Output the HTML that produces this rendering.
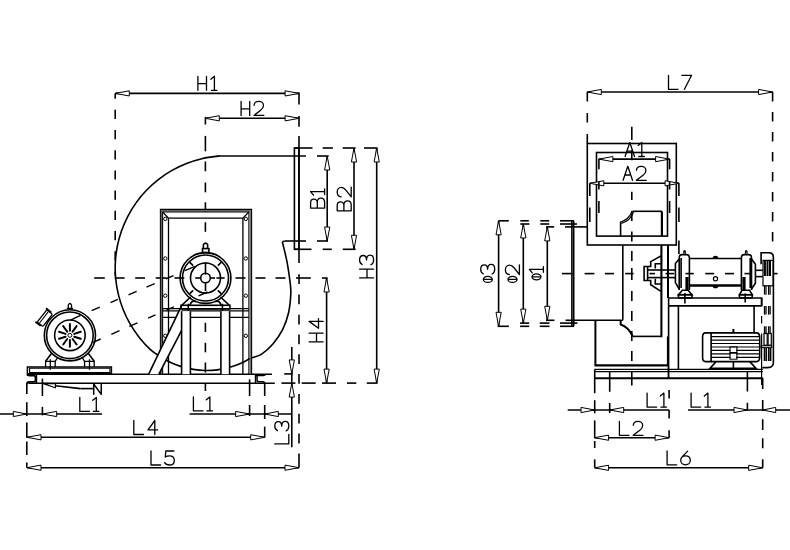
<!DOCTYPE html>
<html><head><meta charset="utf-8"><style>
html,body{margin:0;padding:0;background:#fff;}
svg{display:block;}
</style></head><body>
<svg width="790" height="550" viewBox="0 0 790 550">
<rect width="790" height="550" fill="#fff"/>
<path d="M284.50,241.00 C284.18,241.17 282.85,241.40 282.60,242.00 C282.35,242.60 282.67,243.10 283.00,244.60 C283.33,246.10 283.88,247.87 284.60,251.00 C285.32,254.13 286.38,258.18 287.30,263.40 C288.22,268.62 289.52,277.18 290.10,282.30 C290.68,287.42 291.07,288.98 290.80,294.10 C290.53,299.22 289.87,307.08 288.50,313.00 C287.13,318.92 285.17,324.48 282.60,329.60 C280.03,334.72 276.65,339.57 273.10,343.70 C269.55,347.83 264.96,352.01 261.30,354.40 C257.64,356.79 254.64,356.52 251.16,358.06 C247.69,359.59 244.13,362.00 240.44,363.59 C236.75,365.17 232.91,366.50 229.04,367.55 C225.17,368.60 221.18,369.38 217.19,369.86 C213.21,370.35 209.15,370.56 205.14,370.48 C201.13,370.41 197.08,370.04 193.12,369.40 C189.16,368.75 185.21,367.82 181.38,366.62 C177.55,365.43 173.76,363.95 170.14,362.22 C166.52,360.50 163.02,358.46 159.64,356.28 C156.26,354.10 153.29,352.32 149.86,349.14 C146.44,345.97 142.37,341.44 139.08,337.23 C135.79,333.03 132.76,328.54 130.11,323.91 C127.45,319.27 125.10,314.40 123.12,309.44 C121.15,304.47 119.52,299.31 118.28,294.12 C117.04,288.92 116.16,283.58 115.67,278.27 C115.18,272.95 115.07,267.54 115.35,262.20 C115.63,256.87 116.29,251.50 117.32,246.26 C118.36,241.02 119.78,235.80 121.55,230.76 C123.33,225.72 125.48,220.76 127.95,216.02 C130.43,211.29 133.27,206.68 136.39,202.35 C139.51,198.01 142.98,193.86 146.69,190.02 C150.40,186.17 154.43,182.56 158.65,179.29 C162.87,176.01 167.37,173.01 172.01,170.37 C176.65,167.73 181.54,165.40 186.51,163.45 C191.48,161.50 196.65,159.89 201.85,158.67 C207.05,157.45 215.02,156.59 217.71,156.13 C220.40,155.67 217.95,155.94 218.00,155.90" fill="none" stroke="#000" stroke-width="1.6"/>
<line x1="218.00" y1="156.00" x2="306.00" y2="156.00" stroke="#000" stroke-width="1.6"/>
<line x1="115.30" y1="93.40" x2="299.10" y2="93.40" stroke="#000" stroke-width="1.6"/>
<path d="M115.30,93.40 L129.30,90.80 L129.30,96.00Z" fill="#fff" stroke="#000" stroke-width="1.0" stroke-linejoin="miter"/>
<path d="M299.10,93.40 L285.10,90.80 L285.10,96.00Z" fill="#fff" stroke="#000" stroke-width="1.0" stroke-linejoin="miter"/>
<g transform="translate(197.90,76.30)" fill="none" stroke="#000" stroke-width="1.30" stroke-linecap="round" stroke-linejoin="round">
<path transform="translate(0.00,0)" d="M0,0V14M8.6,0V14M0,7.4H8.6"/>
<path transform="translate(12.90,0)" d="M0,2.9L3.6,0V14M0.6,14H6.2"/>
</g>
<line x1="205.30" y1="118.30" x2="299.10" y2="118.30" stroke="#000" stroke-width="1.6"/>
<path d="M205.30,118.30 L219.30,115.70 L219.30,120.90Z" fill="#fff" stroke="#000" stroke-width="1.0" stroke-linejoin="miter"/>
<path d="M299.10,118.30 L285.10,115.70 L285.10,120.90Z" fill="#fff" stroke="#000" stroke-width="1.0" stroke-linejoin="miter"/>
<g transform="translate(241.10,101.40)" fill="none" stroke="#000" stroke-width="1.30" stroke-linecap="round" stroke-linejoin="round">
<path transform="translate(0.00,0)" d="M0,0V14M8.6,0V14M0,7.4H8.6"/>
<path transform="translate(12.70,0)" d="M0.3,3.9C0.4,1.5 2.4,0 5,0C7.7,0 9.7,1.7 9.7,4.1C9.7,6.2 8.6,7.4 6.8,8.9L0.2,14H10"/>
</g>
<line x1="115.20" y1="93.40" x2="115.20" y2="98.80" stroke="#000" stroke-width="1.6"/>
<line x1="115.20" y1="109.80" x2="115.20" y2="119.00" stroke="#000" stroke-width="1.6"/>
<line x1="115.20" y1="130.00" x2="115.20" y2="139.20" stroke="#000" stroke-width="1.6"/>
<line x1="115.20" y1="150.20" x2="115.20" y2="159.40" stroke="#000" stroke-width="1.6"/>
<line x1="115.20" y1="170.40" x2="115.20" y2="179.60" stroke="#000" stroke-width="1.6"/>
<line x1="115.20" y1="190.60" x2="115.20" y2="199.80" stroke="#000" stroke-width="1.6"/>
<line x1="115.20" y1="210.80" x2="115.20" y2="220.00" stroke="#000" stroke-width="1.6"/>
<line x1="115.20" y1="231.00" x2="115.20" y2="240.20" stroke="#000" stroke-width="1.6"/>
<line x1="115.20" y1="251.20" x2="115.20" y2="260.40" stroke="#000" stroke-width="1.6"/>
<line x1="115.20" y1="271.40" x2="115.20" y2="276.00" stroke="#000" stroke-width="1.6"/>
<line x1="205.40" y1="116.90" x2="205.40" y2="124.50" stroke="#000" stroke-width="1.6"/>
<line x1="205.40" y1="135.90" x2="205.40" y2="151.30" stroke="#000" stroke-width="1.6"/>
<line x1="205.40" y1="161.50" x2="205.40" y2="171.30" stroke="#000" stroke-width="1.6"/>
<line x1="205.40" y1="182.50" x2="205.40" y2="192.30" stroke="#000" stroke-width="1.6"/>
<line x1="205.40" y1="202.30" x2="205.40" y2="211.80" stroke="#000" stroke-width="1.6"/>
<line x1="205.40" y1="222.30" x2="205.40" y2="231.80" stroke="#000" stroke-width="1.6"/>
<line x1="205.40" y1="322.80" x2="205.40" y2="332.00" stroke="#000" stroke-width="1.6"/>
<line x1="205.40" y1="342.80" x2="205.40" y2="352.30" stroke="#000" stroke-width="1.6"/>
<line x1="205.40" y1="362.50" x2="205.40" y2="372.50" stroke="#000" stroke-width="1.6"/>
<line x1="205.40" y1="383.00" x2="205.40" y2="391.00" stroke="#000" stroke-width="1.6"/>
<line x1="299.00" y1="92.60" x2="299.00" y2="104.40" stroke="#000" stroke-width="1.6"/>
<line x1="299.00" y1="116.10" x2="299.00" y2="126.70" stroke="#000" stroke-width="1.6"/>
<line x1="299.00" y1="135.90" x2="299.00" y2="263.00" stroke="#000" stroke-width="1.6"/>
<line x1="299.00" y1="274.20" x2="299.00" y2="284.00" stroke="#000" stroke-width="1.6"/>
<line x1="299.00" y1="294.50" x2="299.00" y2="304.30" stroke="#000" stroke-width="1.6"/>
<line x1="299.00" y1="314.80" x2="299.00" y2="324.60" stroke="#000" stroke-width="1.6"/>
<line x1="299.00" y1="334.40" x2="299.00" y2="344.20" stroke="#000" stroke-width="1.6"/>
<line x1="299.00" y1="354.20" x2="299.00" y2="364.00" stroke="#000" stroke-width="1.6"/>
<line x1="299.00" y1="374.00" x2="299.00" y2="383.80" stroke="#000" stroke-width="1.6"/>
<line x1="299.00" y1="394.00" x2="299.00" y2="403.80" stroke="#000" stroke-width="1.6"/>
<line x1="299.00" y1="413.80" x2="299.00" y2="423.60" stroke="#000" stroke-width="1.6"/>
<line x1="299.00" y1="433.60" x2="299.00" y2="443.40" stroke="#000" stroke-width="1.6"/>
<line x1="299.00" y1="453.40" x2="299.00" y2="467.70" stroke="#000" stroke-width="1.6"/>
<rect x="294.40" y="148.00" width="4.50" height="101.30" fill="none" stroke="#000" stroke-width="1.6"/>
<line x1="317.00" y1="156.00" x2="328.70" y2="156.00" stroke="#000" stroke-width="1.6"/>
<line x1="284.50" y1="241.00" x2="306.00" y2="241.00" stroke="#000" stroke-width="1.6"/>
<line x1="317.00" y1="241.00" x2="328.00" y2="241.00" stroke="#000" stroke-width="1.6"/>
<line x1="294.40" y1="148.00" x2="312.50" y2="148.00" stroke="#000" stroke-width="1.6"/>
<line x1="322.70" y1="148.00" x2="332.90" y2="148.00" stroke="#000" stroke-width="1.6"/>
<line x1="342.70" y1="148.00" x2="355.60" y2="148.00" stroke="#000" stroke-width="1.6"/>
<line x1="364.00" y1="148.00" x2="377.50" y2="148.00" stroke="#000" stroke-width="1.6"/>
<line x1="294.40" y1="249.30" x2="311.50" y2="249.30" stroke="#000" stroke-width="1.6"/>
<line x1="322.70" y1="249.30" x2="331.80" y2="249.30" stroke="#000" stroke-width="1.6"/>
<line x1="342.70" y1="249.30" x2="355.60" y2="249.30" stroke="#000" stroke-width="1.6"/>
<line x1="281.40" y1="383.10" x2="295.40" y2="383.10" stroke="#000" stroke-width="1.6"/>
<line x1="301.70" y1="383.10" x2="315.70" y2="383.10" stroke="#000" stroke-width="1.6"/>
<line x1="322.00" y1="383.10" x2="336.00" y2="383.10" stroke="#000" stroke-width="1.6"/>
<line x1="346.90" y1="383.10" x2="356.30" y2="383.10" stroke="#000" stroke-width="1.6"/>
<line x1="366.80" y1="383.10" x2="377.50" y2="383.10" stroke="#000" stroke-width="1.6"/>
<line x1="327.20" y1="156.00" x2="327.20" y2="241.00" stroke="#000" stroke-width="1.6"/>
<path d="M327.20,156.00 L324.60,170.00 L329.80,170.00Z" fill="#fff" stroke="#000" stroke-width="1.0" stroke-linejoin="miter"/>
<path d="M327.20,241.00 L324.60,227.00 L329.80,227.00Z" fill="#fff" stroke="#000" stroke-width="1.0" stroke-linejoin="miter"/>
<g transform="translate(310.60,208.10) rotate(-90)" fill="none" stroke="#000" stroke-width="1.30" stroke-linecap="round" stroke-linejoin="round">
<path transform="translate(0.00,0)" d="M0,0V14H5.6C8.1,14 9.9,12.6 9.9,10.4C9.9,8.2 8.1,6.7 5.6,6.7H0M0,0H5.2C7.3,0 8.9,1.4 8.9,3.3C8.9,5.3 7.3,6.7 5.2,6.7"/>
<path transform="translate(12.90,0)" d="M0,2.9L3.6,0V14M0.6,14H6.2"/>
</g>
<line x1="354.00" y1="148.00" x2="354.00" y2="249.30" stroke="#000" stroke-width="1.6"/>
<path d="M354.00,148.00 L351.40,162.00 L356.60,162.00Z" fill="#fff" stroke="#000" stroke-width="1.0" stroke-linejoin="miter"/>
<path d="M354.00,249.30 L351.40,235.30 L356.60,235.30Z" fill="#fff" stroke="#000" stroke-width="1.0" stroke-linejoin="miter"/>
<g transform="translate(337.20,210.80) rotate(-90)" fill="none" stroke="#000" stroke-width="1.30" stroke-linecap="round" stroke-linejoin="round">
<path transform="translate(0.00,0)" d="M0,0V14H5.6C8.1,14 9.9,12.6 9.9,10.4C9.9,8.2 8.1,6.7 5.6,6.7H0M0,0H5.2C7.3,0 8.9,1.4 8.9,3.3C8.9,5.3 7.3,6.7 5.2,6.7"/>
<path transform="translate(13.70,0)" d="M0.3,3.9C0.4,1.5 2.4,0 5,0C7.7,0 9.7,1.7 9.7,4.1C9.7,6.2 8.6,7.4 6.8,8.9L0.2,14H10"/>
</g>
<line x1="376.70" y1="148.00" x2="376.70" y2="383.10" stroke="#000" stroke-width="1.6"/>
<path d="M376.70,148.00 L374.10,162.00 L379.30,162.00Z" fill="#fff" stroke="#000" stroke-width="1.0" stroke-linejoin="miter"/>
<path d="M376.70,383.10 L374.10,369.10 L379.30,369.10Z" fill="#fff" stroke="#000" stroke-width="1.0" stroke-linejoin="miter"/>
<g transform="translate(359.60,277.80) rotate(-90)" fill="none" stroke="#000" stroke-width="1.30" stroke-linecap="round" stroke-linejoin="round">
<path transform="translate(0.00,0)" d="M0,0V14M8.6,0V14M0,7.4H8.6"/>
<path transform="translate(12.90,0)" d="M0.4,2.6C1.2,0.9 2.9,0 5,0C7.6,0 9.4,1.5 9.4,3.6C9.4,5.7 7.6,6.9 4.9,6.9C7.8,6.9 9.8,8.3 9.8,10.5C9.8,12.6 7.8,14 5,14C2.8,14 1,13.1 0.2,11.4"/>
</g>
<line x1="326.60" y1="278.00" x2="326.60" y2="383.10" stroke="#000" stroke-width="1.6"/>
<path d="M326.60,278.00 L324.00,292.00 L329.20,292.00Z" fill="#fff" stroke="#000" stroke-width="1.0" stroke-linejoin="miter"/>
<path d="M326.60,383.10 L324.00,369.10 L329.20,369.10Z" fill="#fff" stroke="#000" stroke-width="1.0" stroke-linejoin="miter"/>
<g transform="translate(309.10,341.80) rotate(-90)" fill="none" stroke="#000" stroke-width="1.30" stroke-linecap="round" stroke-linejoin="round">
<path transform="translate(0.00,0)" d="M0,0V14M8.6,0V14M0,7.4H8.6"/>
<path transform="translate(13.60,0)" d="M6.8,0L0,9.4H9.6M6.8,0V14"/>
</g>
<line x1="291.80" y1="347.00" x2="291.80" y2="447.30" stroke="#000" stroke-width="1.6"/>
<path d="M291.80,373.90 L289.20,359.90 L294.40,359.90Z" fill="#fff" stroke="#000" stroke-width="1.0" stroke-linejoin="miter"/>
<path d="M291.80,383.10 L289.20,397.10 L294.40,397.10Z" fill="#fff" stroke="#000" stroke-width="1.0" stroke-linejoin="miter"/>
<line x1="284.20" y1="373.90" x2="292.60" y2="373.90" stroke="#000" stroke-width="1.6"/>
<g transform="translate(274.80,443.90) rotate(-90)" fill="none" stroke="#000" stroke-width="1.30" stroke-linecap="round" stroke-linejoin="round">
<path transform="translate(0.00,0)" d="M0,0V14H9.6"/>
<path transform="translate(12.80,0)" d="M0.4,2.6C1.2,0.9 2.9,0 5,0C7.6,0 9.4,1.5 9.4,3.6C9.4,5.7 7.6,6.9 4.9,6.9C7.8,6.9 9.8,8.3 9.8,10.5C9.8,12.6 7.8,14 5,14C2.8,14 1,13.1 0.2,11.4"/>
</g>
<line x1="94.20" y1="278.00" x2="104.80" y2="278.00" stroke="#000" stroke-width="1.6"/>
<line x1="114.70" y1="278.00" x2="124.60" y2="278.00" stroke="#000" stroke-width="1.6"/>
<line x1="135.20" y1="278.00" x2="145.00" y2="278.00" stroke="#000" stroke-width="1.6"/>
<line x1="155.70" y1="278.00" x2="166.30" y2="278.00" stroke="#000" stroke-width="1.6"/>
<line x1="174.50" y1="278.00" x2="184.30" y2="278.00" stroke="#000" stroke-width="1.6"/>
<line x1="195.20" y1="278.00" x2="200.70" y2="278.00" stroke="#000" stroke-width="1.6"/>
<line x1="210.20" y1="278.00" x2="215.00" y2="278.00" stroke="#000" stroke-width="1.6"/>
<line x1="216.40" y1="278.00" x2="224.60" y2="278.00" stroke="#000" stroke-width="1.6"/>
<line x1="235.50" y1="278.00" x2="245.50" y2="278.00" stroke="#000" stroke-width="1.6"/>
<line x1="255.50" y1="278.00" x2="265.50" y2="278.00" stroke="#000" stroke-width="1.6"/>
<line x1="275.50" y1="278.00" x2="285.50" y2="278.00" stroke="#000" stroke-width="1.6"/>
<line x1="296.00" y1="278.00" x2="310.80" y2="278.00" stroke="#000" stroke-width="1.6"/>
<line x1="322.00" y1="278.00" x2="327.60" y2="278.00" stroke="#000" stroke-width="1.6"/>
<line x1="0.00" y1="414.00" x2="102.00" y2="414.00" stroke="#000" stroke-width="1.6"/>
<path d="M26.60,414.00 L13.30,411.40 L13.30,416.60Z" fill="#fff" stroke="#000" stroke-width="1.0" stroke-linejoin="miter"/>
<path d="M42.40,414.00 L56.70,411.40 L56.70,416.60Z" fill="#fff" stroke="#000" stroke-width="1.0" stroke-linejoin="miter"/>
<g transform="translate(79.80,397.40)" fill="none" stroke="#000" stroke-width="1.30" stroke-linecap="round" stroke-linejoin="round">
<path transform="translate(0.00,0)" d="M0,0V14H9.6"/>
<path transform="translate(12.90,0)" d="M0,2.9L3.6,0V14M0.6,14H6.2"/>
</g>
<line x1="26.80" y1="383.20" x2="26.80" y2="394.10" stroke="#000" stroke-width="1.6"/>
<line x1="26.80" y1="402.30" x2="26.80" y2="416.00" stroke="#000" stroke-width="1.6"/>
<line x1="26.80" y1="422.40" x2="26.80" y2="437.80" stroke="#000" stroke-width="1.6"/>
<line x1="26.80" y1="441.50" x2="26.80" y2="455.10" stroke="#000" stroke-width="1.6"/>
<line x1="26.80" y1="462.40" x2="26.80" y2="467.80" stroke="#000" stroke-width="1.6"/>
<line x1="42.40" y1="378.60" x2="42.40" y2="396.00" stroke="#000" stroke-width="1.6"/>
<line x1="42.40" y1="406.90" x2="42.40" y2="415.40" stroke="#000" stroke-width="1.6"/>
<line x1="189.60" y1="414.00" x2="291.80" y2="414.00" stroke="#000" stroke-width="1.6"/>
<path d="M249.60,414.00 L235.60,411.40 L235.60,416.60Z" fill="#fff" stroke="#000" stroke-width="1.0" stroke-linejoin="miter"/>
<path d="M264.70,414.00 L278.30,411.40 L278.30,416.60Z" fill="#fff" stroke="#000" stroke-width="1.0" stroke-linejoin="miter"/>
<g transform="translate(193.40,396.90)" fill="none" stroke="#000" stroke-width="1.30" stroke-linecap="round" stroke-linejoin="round">
<path transform="translate(0.00,0)" d="M0,0V14H9.6"/>
<path transform="translate(12.90,0)" d="M0,2.9L3.6,0V14M0.6,14H6.2"/>
</g>
<line x1="249.60" y1="379.30" x2="249.60" y2="396.00" stroke="#000" stroke-width="1.6"/>
<line x1="249.60" y1="405.00" x2="249.60" y2="416.00" stroke="#000" stroke-width="1.6"/>
<line x1="264.70" y1="383.30" x2="264.70" y2="396.00" stroke="#000" stroke-width="1.6"/>
<line x1="264.70" y1="405.00" x2="264.70" y2="419.00" stroke="#000" stroke-width="1.6"/>
<line x1="264.70" y1="426.60" x2="264.70" y2="437.30" stroke="#000" stroke-width="1.6"/>
<line x1="27.00" y1="437.30" x2="264.70" y2="437.30" stroke="#000" stroke-width="1.6"/>
<path d="M27.00,437.30 L41.00,434.70 L41.00,439.90Z" fill="#fff" stroke="#000" stroke-width="1.0" stroke-linejoin="miter"/>
<path d="M264.70,437.30 L250.70,434.70 L250.70,439.90Z" fill="#fff" stroke="#000" stroke-width="1.0" stroke-linejoin="miter"/>
<g transform="translate(133.80,420.50)" fill="none" stroke="#000" stroke-width="1.30" stroke-linecap="round" stroke-linejoin="round">
<path transform="translate(0.00,0)" d="M0,0V14H9.6"/>
<path transform="translate(14.20,0)" d="M6.8,0L0,9.4H9.6M6.8,0V14"/>
</g>
<line x1="27.00" y1="467.70" x2="299.00" y2="467.70" stroke="#000" stroke-width="1.6"/>
<path d="M27.00,467.70 L41.00,465.10 L41.00,470.30Z" fill="#fff" stroke="#000" stroke-width="1.0" stroke-linejoin="miter"/>
<path d="M299.00,467.70 L285.00,465.10 L285.00,470.30Z" fill="#fff" stroke="#000" stroke-width="1.0" stroke-linejoin="miter"/>
<g transform="translate(151.00,451.00)" fill="none" stroke="#000" stroke-width="1.30" stroke-linecap="round" stroke-linejoin="round">
<path transform="translate(0.00,0)" d="M0,0V14H9.6"/>
<path transform="translate(13.50,0)" d="M9.4,0H1.3L0.8,6C1.9,5.2 3.4,4.8 5,4.8C7.9,4.8 9.8,6.7 9.8,9.4C9.8,12.1 7.8,14 5,14C2.8,14 1,13.2 0.2,11.6"/>
</g>
<line x1="27.30" y1="374.20" x2="272.00" y2="374.20" stroke="#000" stroke-width="1.6"/>
<line x1="28.40" y1="383.20" x2="274.80" y2="383.20" stroke="#000" stroke-width="1.6"/>
<line x1="36.40" y1="374.20" x2="36.40" y2="383.20" stroke="#000" stroke-width="1.6"/>
<path d="M27.0,374.4 Q27.4,375.6 29.5,375.6 H33.6 Q35.4,375.6 35.4,377.8 V380.2 Q35.4,381.9 33.4,381.9 H29.2 Q26.8,381.9 26.8,384.5" fill="none" stroke="#000" stroke-width="1.6"/>
<line x1="255.60" y1="374.20" x2="255.60" y2="383.20" stroke="#000" stroke-width="1.6"/>
<path d="M255.6,375.5 H263.2 Q265.2,375.5 265.6,374.3 M257.1,375.5 V380 Q257.1,381.7 259,381.7 H262.9 Q264.7,381.7 264.7,383.5" fill="none" stroke="#000" stroke-width="1.4"/>
<path d="M42.6,383.4 L55.6,383.6 L55.3,387.8 Z" fill="#fff" stroke="#000" stroke-width="1.2"/>
<line x1="55.30" y1="385.80" x2="80.40" y2="388.60" stroke="#000" stroke-width="1.6"/>
<line x1="80.40" y1="388.60" x2="92.90" y2="388.60" stroke="#000" stroke-width="1.6"/>
<g transform="translate(93.70,384.00) scale(0.74)" fill="none" stroke="#000" stroke-width="2.03" stroke-linecap="round" stroke-linejoin="round">
<path transform="translate(0.00,0)" d="M0,14V0L10.2,14V0"/>
</g>
<path d="M160.4,374.2 V209.4 H251.6 V374.2 M162.6,374.2 V211.9 H248.9 V374.2" fill="none" stroke="#000" stroke-width="1.1"/>
<path d="M161.5,374.2 V210.6 H250.3 V374.2" fill="none" stroke="#666" stroke-width="1.2"/>
<path d="M168.5,374.2 V218.2 H242.9 V374.2 M162.6,211.9 L168.5,218.2 M248.9,211.9 L242.9,218.2" fill="none" stroke="#000" stroke-width="1.3"/>
<circle cx="165.30" cy="218.90" r="1.70" fill="none" stroke="#000" stroke-width="1.0"/>
<circle cx="245.80" cy="218.90" r="1.70" fill="none" stroke="#000" stroke-width="1.0"/>
<circle cx="165.30" cy="258.50" r="1.70" fill="none" stroke="#000" stroke-width="1.0"/>
<circle cx="245.80" cy="258.50" r="1.70" fill="none" stroke="#000" stroke-width="1.0"/>
<circle cx="165.30" cy="295.70" r="1.70" fill="none" stroke="#000" stroke-width="1.0"/>
<circle cx="245.80" cy="295.70" r="1.70" fill="none" stroke="#000" stroke-width="1.0"/>
<circle cx="165.30" cy="335.80" r="1.70" fill="none" stroke="#000" stroke-width="1.0"/>
<circle cx="245.80" cy="335.80" r="1.70" fill="none" stroke="#000" stroke-width="1.0"/>
<line x1="162.60" y1="308.60" x2="248.90" y2="308.60" stroke="#000" stroke-width="1.2"/>
<line x1="162.60" y1="310.90" x2="248.90" y2="310.90" stroke="#000" stroke-width="1.2"/>
<line x1="162.60" y1="317.30" x2="248.90" y2="317.30" stroke="#000" stroke-width="1.3"/>
<path d="M148.7,374.2 L181.5,305.8 V330.6 L158.9,374.2 Z" fill="#fff" stroke="none"/>
<rect x="181.6" y="311.2" width="8.8" height="63" fill="#fff"/><rect x="220.9" y="311.2" width="8.7" height="63" fill="#fff"/>
<line x1="181.60" y1="311.20" x2="181.60" y2="374.20" stroke="#000" stroke-width="1.6"/>
<line x1="190.40" y1="311.20" x2="190.40" y2="374.20" stroke="#000" stroke-width="1.6"/>
<line x1="220.90" y1="311.20" x2="220.90" y2="374.20" stroke="#000" stroke-width="1.6"/>
<line x1="229.60" y1="311.20" x2="229.60" y2="374.20" stroke="#000" stroke-width="1.6"/>
<rect x="181.00" y="305.30" width="48.90" height="3.70" fill="none" stroke="#000" stroke-width="1.6"/>
<line x1="181.50" y1="305.80" x2="148.70" y2="374.20" stroke="#000" stroke-width="1.6"/>
<line x1="181.50" y1="330.60" x2="158.90" y2="374.20" stroke="#000" stroke-width="1.6"/>
<circle cx="205.50" cy="278.00" r="25.40" fill="none" stroke="#000" stroke-width="1.6"/>
<circle cx="205.50" cy="278.00" r="23.00" fill="none" stroke="#000" stroke-width="1.6"/>
<circle cx="205.50" cy="278.00" r="15.00" fill="none" stroke="#000" stroke-width="1.6"/>
<circle cx="205.50" cy="278.00" r="4.80" fill="none" stroke="#000" stroke-width="1.6"/>
<line x1="205.50" y1="262.30" x2="205.50" y2="274.60" stroke="#000" stroke-width="1.6"/>
<line x1="205.50" y1="282.00" x2="205.50" y2="291.00" stroke="#000" stroke-width="1.6"/>
<line x1="217.87" y1="265.63" x2="221.41" y2="262.09" stroke="#000" stroke-width="1.6"/>
<line x1="193.13" y1="265.63" x2="189.59" y2="262.09" stroke="#000" stroke-width="1.6"/>
<line x1="193.13" y1="290.37" x2="189.59" y2="293.91" stroke="#000" stroke-width="1.6"/>
<line x1="217.87" y1="290.37" x2="221.41" y2="293.91" stroke="#000" stroke-width="1.6"/>
<path d="M203.4,249 V244.5 Q205.5,241.8 207.6,244.5 V249" fill="none" stroke="#000" stroke-width="1.6"/>
<rect x="202.50" y="248.60" width="6.40" height="4.00" fill="none" stroke="#000" stroke-width="1.6"/>
<line x1="190.60" y1="297.00" x2="181.70" y2="305.30" stroke="#000" stroke-width="1.6"/>
<line x1="220.50" y1="297.00" x2="229.40" y2="305.30" stroke="#000" stroke-width="1.6"/>
<path d="M190,305.3 Q191,300 196,301.5 M215,301.5 Q220,300 221,305.3" fill="none" stroke="#000" stroke-width="1.6"/>
<line x1="188.30" y1="303.70" x2="188.30" y2="311.00" stroke="#000" stroke-width="1.6"/>
<line x1="222.40" y1="303.70" x2="222.40" y2="311.00" stroke="#000" stroke-width="1.6"/>
<line x1="91.60" y1="310.65" x2="99.80" y2="307.14" stroke="#000" stroke-width="1.4"/>
<line x1="110.50" y1="302.56" x2="117.80" y2="299.44" stroke="#000" stroke-width="1.4"/>
<line x1="128.50" y1="294.86" x2="136.70" y2="291.35" stroke="#000" stroke-width="1.4"/>
<line x1="146.50" y1="287.15" x2="154.70" y2="283.64" stroke="#000" stroke-width="1.4"/>
<line x1="166.10" y1="278.76" x2="173.50" y2="275.60" stroke="#000" stroke-width="1.4"/>
<line x1="185.00" y1="270.67" x2="194.80" y2="266.48" stroke="#000" stroke-width="1.4"/>
<line x1="111.30" y1="334.34" x2="119.50" y2="330.73" stroke="#000" stroke-width="1.4"/>
<line x1="129.30" y1="326.42" x2="137.50" y2="322.81" stroke="#000" stroke-width="1.4"/>
<line x1="148.10" y1="318.14" x2="155.50" y2="314.89" stroke="#000" stroke-width="1.4"/>
<line x1="166.50" y1="310.05" x2="173.80" y2="306.84" stroke="#000" stroke-width="1.4"/>
<line x1="198.50" y1="295.97" x2="207.50" y2="292.01" stroke="#000" stroke-width="1.4"/>
<circle cx="69.90" cy="335.30" r="25.60" fill="none" stroke="#000" stroke-width="1.6"/>
<circle cx="69.90" cy="335.30" r="23.30" fill="none" stroke="#000" stroke-width="1.6"/>
<circle cx="69.90" cy="335.30" r="15.30" fill="none" stroke="#000" stroke-width="1.6"/>
<circle cx="69.90" cy="335.30" r="2.00" fill="none" stroke="#000" stroke-width="1.0"/>
<line x1="74.27" y1="336.72" x2="80.74" y2="338.82" stroke="#000" stroke-width="2.0" stroke-linecap="round"/>
<line x1="72.60" y1="339.02" x2="76.60" y2="344.52" stroke="#000" stroke-width="2.0" stroke-linecap="round"/>
<line x1="69.90" y1="339.90" x2="69.90" y2="346.70" stroke="#000" stroke-width="2.0" stroke-linecap="round"/>
<line x1="67.20" y1="339.02" x2="63.20" y2="344.52" stroke="#000" stroke-width="2.0" stroke-linecap="round"/>
<line x1="65.53" y1="336.72" x2="59.06" y2="338.82" stroke="#000" stroke-width="2.0" stroke-linecap="round"/>
<line x1="65.53" y1="333.88" x2="59.06" y2="331.78" stroke="#000" stroke-width="2.0" stroke-linecap="round"/>
<line x1="67.20" y1="331.58" x2="63.20" y2="326.08" stroke="#000" stroke-width="2.0" stroke-linecap="round"/>
<line x1="69.90" y1="330.70" x2="69.90" y2="323.90" stroke="#000" stroke-width="2.0" stroke-linecap="round"/>
<line x1="72.60" y1="331.58" x2="76.60" y2="326.08" stroke="#000" stroke-width="2.0" stroke-linecap="round"/>
<line x1="74.27" y1="333.88" x2="80.74" y2="331.78" stroke="#000" stroke-width="2.0" stroke-linecap="round"/>
<line x1="70.50" y1="320.10" x2="80.50" y2="315.40" stroke="#000" stroke-width="1.4"/>
<line x1="93.00" y1="342.40" x2="100.70" y2="339.00" stroke="#000" stroke-width="1.4"/>
<path d="M68.3,308.2 V305 Q69.9,302.0 71.5,305 V308.2" fill="none" stroke="#000" stroke-width="1.3"/>
<line x1="66.80" y1="308.60" x2="73.00" y2="308.60" stroke="#000" stroke-width="1.6"/>
<g transform="translate(44.8,318.2) rotate(-52)"><rect x="-7.8" y="-3.6" width="15.6" height="7.2" rx="1.2" fill="#fff" stroke="#000" stroke-width="1.3"/><line x1="-7" y1="-1.2" x2="7" y2="-1.2" stroke="#000" stroke-width="1.1"/><line x1="-8.6" y1="-5.2" x2="-8.6" y2="1.5" stroke="#000" stroke-width="1.8"/><line x1="8.6" y1="-5.2" x2="8.6" y2="1.5" stroke="#000" stroke-width="1.8"/></g>
<line x1="52.00" y1="352.70" x2="45.60" y2="361.30" stroke="#000" stroke-width="1.6"/>
<line x1="87.80" y1="352.70" x2="94.20" y2="361.30" stroke="#000" stroke-width="1.6"/>
<line x1="55.20" y1="361.30" x2="57.90" y2="357.00" stroke="#000" stroke-width="1.3"/>
<line x1="84.60" y1="361.30" x2="81.90" y2="357.00" stroke="#000" stroke-width="1.3"/>
<path d="M45.60,366.90 L45.60,361.30 L55.20,361.30 L55.20,366.90" fill="none" stroke="#000" stroke-width="1.3" stroke-linejoin="miter"/>
<path d="M84.60,366.90 L84.60,361.30 L94.20,361.30 L94.20,366.90" fill="none" stroke="#000" stroke-width="1.3" stroke-linejoin="miter"/>
<line x1="50.30" y1="359.20" x2="50.30" y2="369.80" stroke="#000" stroke-width="1.3"/>
<line x1="89.50" y1="359.20" x2="89.50" y2="369.80" stroke="#000" stroke-width="1.3"/>
<path d="M111.4,366.9 H27.4 V374.1 H111.4 Z" fill="none" stroke="#000" stroke-width="1.5"/>
<path d="M109.9,368.3 H29.6 V372.6 H109.9 Z" fill="none" stroke="#000" stroke-width="1.1"/>
<line x1="27.40" y1="373.50" x2="111.40" y2="373.50" stroke="#000" stroke-width="1.2"/>
<line x1="587.30" y1="92.00" x2="772.60" y2="92.00" stroke="#000" stroke-width="1.6"/>
<path d="M587.30,92.00 L601.30,89.40 L601.30,94.60Z" fill="#fff" stroke="#000" stroke-width="1.0" stroke-linejoin="miter"/>
<path d="M772.60,92.00 L758.60,89.40 L758.60,94.60Z" fill="#fff" stroke="#000" stroke-width="1.0" stroke-linejoin="miter"/>
<g transform="translate(668.50,75.30)" fill="none" stroke="#000" stroke-width="1.30" stroke-linecap="round" stroke-linejoin="round">
<path transform="translate(0.00,0)" d="M0,0V14H9.6"/>
<path transform="translate(13.30,0)" d="M0,0H9.8L2.6,14"/>
</g>
<line x1="587.30" y1="92.00" x2="587.30" y2="101.50" stroke="#000" stroke-width="1.6"/>
<line x1="587.30" y1="113.00" x2="587.30" y2="122.50" stroke="#000" stroke-width="1.6"/>
<line x1="587.30" y1="134.00" x2="587.30" y2="143.40" stroke="#000" stroke-width="1.6"/>
<line x1="772.60" y1="92.00" x2="772.60" y2="101.50" stroke="#000" stroke-width="1.6"/>
<line x1="772.60" y1="112.00" x2="772.60" y2="121.50" stroke="#000" stroke-width="1.6"/>
<line x1="772.60" y1="132.00" x2="772.60" y2="141.50" stroke="#000" stroke-width="1.6"/>
<line x1="772.60" y1="152.00" x2="772.60" y2="161.50" stroke="#000" stroke-width="1.6"/>
<line x1="772.60" y1="172.00" x2="772.60" y2="181.50" stroke="#000" stroke-width="1.6"/>
<line x1="772.60" y1="192.00" x2="772.60" y2="201.50" stroke="#000" stroke-width="1.6"/>
<line x1="772.60" y1="212.00" x2="772.60" y2="221.50" stroke="#000" stroke-width="1.6"/>
<line x1="772.60" y1="232.00" x2="772.60" y2="241.50" stroke="#000" stroke-width="1.6"/>
<rect x="587.30" y="143.50" width="89.00" height="101.50" fill="none" stroke="#000" stroke-width="1.6"/>
<rect x="596.50" y="152.50" width="71.00" height="83.60" fill="none" stroke="#000" stroke-width="1.6"/>
<line x1="620.60" y1="236.10" x2="620.60" y2="221.70" stroke="#000" stroke-width="1.6"/>
<path d="M620.6,222.0 A18,18 0 0 0 632.2,211.3" fill="none" stroke="#000" stroke-width="1.3"/>
<path d="M621.4,223.4 A18,18 0 0 0 633.6,211.8" fill="none" stroke="#000" stroke-width="1.1"/>
<line x1="632.50" y1="211.30" x2="661.90" y2="211.30" stroke="#000" stroke-width="1.6"/>
<line x1="661.90" y1="211.30" x2="661.90" y2="236.10" stroke="#000" stroke-width="2.2"/>
<line x1="598.90" y1="159.10" x2="669.60" y2="159.10" stroke="#000" stroke-width="1.6"/>
<path d="M598.90,159.10 L612.90,156.50 L612.90,161.70Z" fill="#fff" stroke="#000" stroke-width="1.0" stroke-linejoin="miter"/>
<path d="M669.60,159.10 L655.60,156.50 L655.60,161.70Z" fill="#fff" stroke="#000" stroke-width="1.0" stroke-linejoin="miter"/>
<g transform="translate(625.10,142.50)" fill="none" stroke="#000" stroke-width="1.30" stroke-linecap="round" stroke-linejoin="round">
<path transform="translate(0.00,0)" d="M0,14L4.7,0L9.4,14M1.7,8.7H7.7"/>
<path transform="translate(13.10,0)" d="M0,2.9L3.6,0V14M0.6,14H6.2"/>
</g>
<line x1="589.80" y1="183.30" x2="679.10" y2="183.30" stroke="#000" stroke-width="1.6"/>
<path d="M589.80,183.30 L603.80,180.70 L603.80,185.90Z" fill="#fff" stroke="#000" stroke-width="1.0" stroke-linejoin="miter"/>
<path d="M679.10,183.30 L665.10,180.70 L665.10,185.90Z" fill="#fff" stroke="#000" stroke-width="1.0" stroke-linejoin="miter"/>
<g transform="translate(623.10,166.30)" fill="none" stroke="#000" stroke-width="1.30" stroke-linecap="round" stroke-linejoin="round">
<path transform="translate(0.00,0)" d="M0,14L4.7,0L9.4,14M1.7,8.7H7.7"/>
<path transform="translate(13.10,0)" d="M0.3,3.9C0.4,1.5 2.4,0 5,0C7.7,0 9.7,1.7 9.7,4.1C9.7,6.2 8.6,7.4 6.8,8.9L0.2,14H10"/>
</g>
<line x1="598.90" y1="159.10" x2="598.90" y2="169.30" stroke="#000" stroke-width="1.6"/>
<line x1="598.90" y1="181.90" x2="598.90" y2="189.50" stroke="#000" stroke-width="1.6"/>
<line x1="598.90" y1="201.00" x2="598.90" y2="213.00" stroke="#000" stroke-width="1.6"/>
<line x1="669.60" y1="159.10" x2="669.60" y2="169.30" stroke="#000" stroke-width="1.6"/>
<line x1="669.60" y1="181.90" x2="669.60" y2="189.50" stroke="#000" stroke-width="1.6"/>
<line x1="669.60" y1="201.00" x2="669.60" y2="213.00" stroke="#000" stroke-width="1.6"/>
<line x1="589.80" y1="183.30" x2="589.80" y2="195.90" stroke="#000" stroke-width="1.6"/>
<line x1="589.80" y1="207.40" x2="589.80" y2="222.00" stroke="#000" stroke-width="1.6"/>
<line x1="678.90" y1="183.30" x2="678.90" y2="195.90" stroke="#000" stroke-width="1.6"/>
<line x1="678.90" y1="207.40" x2="678.90" y2="222.00" stroke="#000" stroke-width="1.6"/>
<line x1="678.90" y1="240.50" x2="678.90" y2="254.00" stroke="#000" stroke-width="1.6"/>
<line x1="631.80" y1="126.70" x2="631.80" y2="140.00" stroke="#000" stroke-width="1.6"/>
<line x1="631.80" y1="150.40" x2="631.80" y2="160.20" stroke="#000" stroke-width="1.6"/>
<line x1="631.80" y1="191.70" x2="631.80" y2="200.10" stroke="#000" stroke-width="1.6"/>
<line x1="631.80" y1="211.00" x2="631.80" y2="221.00" stroke="#000" stroke-width="1.6"/>
<line x1="631.80" y1="231.50" x2="631.80" y2="241.50" stroke="#000" stroke-width="1.6"/>
<line x1="631.80" y1="251.00" x2="631.80" y2="260.90" stroke="#000" stroke-width="1.6"/>
<line x1="631.80" y1="268.00" x2="631.80" y2="280.00" stroke="#000" stroke-width="1.6"/>
<line x1="631.80" y1="291.00" x2="631.80" y2="301.00" stroke="#000" stroke-width="1.6"/>
<line x1="631.80" y1="311.00" x2="631.80" y2="321.00" stroke="#000" stroke-width="1.6"/>
<line x1="631.80" y1="331.00" x2="631.80" y2="341.00" stroke="#000" stroke-width="1.6"/>
<line x1="631.80" y1="351.00" x2="631.80" y2="361.00" stroke="#000" stroke-width="1.6"/>
<line x1="631.80" y1="371.00" x2="631.80" y2="385.60" stroke="#000" stroke-width="1.6"/>
<line x1="571.90" y1="220.80" x2="571.90" y2="326.30" stroke="#000" stroke-width="1.6"/>
<line x1="573.70" y1="220.80" x2="573.70" y2="326.30" stroke="#000" stroke-width="1.6"/>
<line x1="573.70" y1="226.90" x2="587.30" y2="226.90" stroke="#000" stroke-width="1.6"/>
<line x1="573.70" y1="320.30" x2="622.80" y2="320.30" stroke="#000" stroke-width="1.6"/>
<line x1="622.80" y1="245.00" x2="622.80" y2="320.30" stroke="#000" stroke-width="1.6"/>
<line x1="595.40" y1="320.30" x2="595.40" y2="365.60" stroke="#000" stroke-width="2.0"/>
<line x1="594.60" y1="365.30" x2="668.30" y2="365.30" stroke="#000" stroke-width="2.2"/>
<line x1="667.90" y1="336.40" x2="667.90" y2="365.60" stroke="#000" stroke-width="2.0"/>
<path d="M620.7,321 V324.5 Q629,327.5 632.6,336.4" fill="none" stroke="#000" stroke-width="2.0"/>
<line x1="632.60" y1="336.40" x2="661.30" y2="336.40" stroke="#000" stroke-width="1.6"/>
<line x1="661.40" y1="245.00" x2="661.40" y2="337.20" stroke="#000" stroke-width="2.1"/>
<line x1="668.00" y1="245.00" x2="668.00" y2="297.90" stroke="#000" stroke-width="2.0"/>
<line x1="498.60" y1="220.80" x2="498.60" y2="326.30" stroke="#000" stroke-width="1.6"/>
<path d="M498.60,220.80 L496.00,234.80 L501.20,234.80Z" fill="#fff" stroke="#000" stroke-width="1.0" stroke-linejoin="miter"/>
<path d="M498.60,326.30 L496.00,312.30 L501.20,312.30Z" fill="#fff" stroke="#000" stroke-width="1.0" stroke-linejoin="miter"/>
<line x1="523.30" y1="224.00" x2="523.30" y2="323.10" stroke="#000" stroke-width="1.6"/>
<path d="M523.30,224.00 L520.70,238.00 L525.90,238.00Z" fill="#fff" stroke="#000" stroke-width="1.0" stroke-linejoin="miter"/>
<path d="M523.30,323.10 L520.70,309.10 L525.90,309.10Z" fill="#fff" stroke="#000" stroke-width="1.0" stroke-linejoin="miter"/>
<line x1="547.30" y1="226.90" x2="547.30" y2="320.30" stroke="#000" stroke-width="1.6"/>
<path d="M547.30,226.90 L544.70,240.90 L549.90,240.90Z" fill="#fff" stroke="#000" stroke-width="1.0" stroke-linejoin="miter"/>
<path d="M547.30,320.30 L544.70,306.30 L549.90,306.30Z" fill="#fff" stroke="#000" stroke-width="1.0" stroke-linejoin="miter"/>
<line x1="498.60" y1="220.80" x2="508.80" y2="220.80" stroke="#000" stroke-width="1.6"/>
<line x1="520.30" y1="220.80" x2="528.80" y2="220.80" stroke="#000" stroke-width="1.6"/>
<line x1="540.30" y1="220.80" x2="549.20" y2="220.80" stroke="#000" stroke-width="1.6"/>
<line x1="560.00" y1="220.80" x2="574.00" y2="220.80" stroke="#000" stroke-width="1.6"/>
<line x1="520.30" y1="224.00" x2="529.40" y2="224.00" stroke="#000" stroke-width="1.6"/>
<line x1="540.30" y1="224.00" x2="549.20" y2="224.00" stroke="#000" stroke-width="1.6"/>
<line x1="560.00" y1="224.00" x2="577.00" y2="224.00" stroke="#000" stroke-width="1.6"/>
<line x1="546.00" y1="226.90" x2="554.20" y2="226.90" stroke="#000" stroke-width="1.6"/>
<line x1="565.00" y1="226.90" x2="573.70" y2="226.90" stroke="#000" stroke-width="1.6"/>
<line x1="497.70" y1="326.30" x2="508.90" y2="326.30" stroke="#000" stroke-width="1.6"/>
<line x1="520.10" y1="326.30" x2="529.20" y2="326.30" stroke="#000" stroke-width="1.6"/>
<line x1="539.70" y1="326.30" x2="549.50" y2="326.30" stroke="#000" stroke-width="1.6"/>
<line x1="560.00" y1="326.30" x2="574.00" y2="326.30" stroke="#000" stroke-width="1.6"/>
<line x1="520.10" y1="323.10" x2="529.20" y2="323.10" stroke="#000" stroke-width="1.6"/>
<line x1="539.70" y1="323.10" x2="549.50" y2="323.10" stroke="#000" stroke-width="1.6"/>
<line x1="560.00" y1="323.10" x2="577.50" y2="323.10" stroke="#000" stroke-width="1.6"/>
<line x1="546.00" y1="320.30" x2="554.40" y2="320.30" stroke="#000" stroke-width="1.6"/>
<line x1="565.60" y1="320.30" x2="573.70" y2="320.30" stroke="#000" stroke-width="1.6"/>
<g transform="translate(480.70,282.40) rotate(-90)" fill="none" stroke="#000" stroke-width="1.30" stroke-linecap="round" stroke-linejoin="round">
<path transform="translate(0.00,0)" d="M3,2.6C1.4,2.6 0,4.6 0,7.1C0,9.6 1.4,11.6 3,11.6C4.6,11.6 6,9.6 6,7.1C6,4.6 4.6,2.6 3,2.6ZM3,2.6V11.6"/>
<path transform="translate(8.20,0)" d="M0.4,2.6C1.2,0.9 2.9,0 5,0C7.6,0 9.4,1.5 9.4,3.6C9.4,5.7 7.6,6.9 4.9,6.9C7.8,6.9 9.8,8.3 9.8,10.5C9.8,12.6 7.8,14 5,14C2.8,14 1,13.1 0.2,11.4"/>
</g>
<g transform="translate(505.40,282.40) rotate(-90)" fill="none" stroke="#000" stroke-width="1.30" stroke-linecap="round" stroke-linejoin="round">
<path transform="translate(0.00,0)" d="M3,2.6C1.4,2.6 0,4.6 0,7.1C0,9.6 1.4,11.6 3,11.6C4.6,11.6 6,9.6 6,7.1C6,4.6 4.6,2.6 3,2.6ZM3,2.6V11.6"/>
<path transform="translate(7.60,0)" d="M0.3,3.9C0.4,1.5 2.4,0 5,0C7.7,0 9.7,1.7 9.7,4.1C9.7,6.2 8.6,7.4 6.8,8.9L0.2,14H10"/>
</g>
<g transform="translate(529.40,279.80) rotate(-90)" fill="none" stroke="#000" stroke-width="1.30" stroke-linecap="round" stroke-linejoin="round">
<path transform="translate(0.00,0)" d="M3,2.6C1.4,2.6 0,4.6 0,7.1C0,9.6 1.4,11.6 3,11.6C4.6,11.6 6,9.6 6,7.1C6,4.6 4.6,2.6 3,2.6ZM3,2.6V11.6"/>
<path transform="translate(6.90,0)" d="M0,2.9L3.6,0V14M0.6,14H6.2"/>
</g>
<line x1="561.90" y1="273.60" x2="572.70" y2="273.60" stroke="#000" stroke-width="1.6"/>
<line x1="584.60" y1="273.60" x2="594.40" y2="273.60" stroke="#000" stroke-width="1.6"/>
<line x1="604.90" y1="273.60" x2="614.00" y2="273.60" stroke="#000" stroke-width="1.6"/>
<line x1="625.20" y1="273.60" x2="633.60" y2="273.60" stroke="#000" stroke-width="1.6"/>
<line x1="649.50" y1="273.60" x2="655.00" y2="273.60" stroke="#000" stroke-width="1.6"/>
<line x1="665.50" y1="273.60" x2="674.00" y2="273.60" stroke="#000" stroke-width="1.6"/>
<line x1="685.50" y1="273.60" x2="693.80" y2="273.60" stroke="#000" stroke-width="1.6"/>
<line x1="705.30" y1="273.60" x2="714.20" y2="273.60" stroke="#000" stroke-width="1.6"/>
<line x1="725.00" y1="273.60" x2="734.00" y2="273.60" stroke="#000" stroke-width="1.6"/>
<line x1="744.50" y1="273.60" x2="751.50" y2="273.60" stroke="#000" stroke-width="1.6"/>
<line x1="773.80" y1="273.60" x2="777.60" y2="273.60" stroke="#000" stroke-width="1.6"/>
<path d="M661.40,255.70 L650.70,261.60 L650.70,266.50 L644.10,266.50 L644.10,280.50 L650.70,280.50 L650.70,284.70 L661.40,291.70" fill="none" stroke="#000" stroke-width="1.6" stroke-linejoin="miter"/>
<path d="M661.40,263.70 L655.30,263.70 L655.30,268.50" fill="none" stroke="#000" stroke-width="1.6" stroke-linejoin="miter"/>
<path d="M655.30,278.80 L655.30,284.00 L661.40,284.00" fill="none" stroke="#000" stroke-width="1.6" stroke-linejoin="miter"/>
<line x1="647.60" y1="270.00" x2="675.40" y2="270.00" stroke="#000" stroke-width="1.6"/>
<line x1="647.60" y1="277.60" x2="675.40" y2="277.60" stroke="#000" stroke-width="1.6"/>
<line x1="647.60" y1="266.50" x2="647.60" y2="280.50" stroke="#000" stroke-width="1.6"/>
<path d="M679.2,259.1 L675.4,263.5 V282.6 L679.2,289" fill="none" stroke="#000" stroke-width="1.6"/>
<path d="M679.2,290 V257.5 Q679.2,254.6 682,254.6 H686.5 Q689.4,254.6 689.4,257.5 V290" fill="none" stroke="#000" stroke-width="1.6"/>
<line x1="681.10" y1="258.00" x2="681.10" y2="288.00" stroke="#000" stroke-width="1.6"/>
<path d="M683.8,253.8 V251.5 Q684.5,249.9 685.3,251.5 V253.8" fill="none" stroke="#000" stroke-width="1.2"/>
<line x1="686.20" y1="277.00" x2="686.20" y2="290.00" stroke="#000" stroke-width="1.6"/>
<line x1="687.80" y1="277.00" x2="687.80" y2="290.00" stroke="#000" stroke-width="1.6"/>
<path d="M682.40,290.30 L688.10,290.30 L691.90,294.70 L678.50,294.70Z" fill="none" stroke="#000" stroke-width="1.6" stroke-linejoin="miter"/>
<rect x="678.50" y="294.70" width="13.40" height="3.20" fill="none" stroke="#000" stroke-width="1.6"/>
<line x1="684.90" y1="293.00" x2="684.90" y2="303.60" stroke="#000" stroke-width="1.6"/>
<line x1="689.40" y1="258.50" x2="741.40" y2="258.50" stroke="#000" stroke-width="1.6"/>
<line x1="689.40" y1="285.50" x2="741.40" y2="285.50" stroke="#000" stroke-width="2.3"/>
<path d="M713.3,258.5 A2.2,2.2 0 0 1 717.7,258.5" fill="#000" stroke="#000" stroke-width="1.3"/>
<path d="M713.3,285.5 A2.2,2.2 0 0 0 717.7,285.5" fill="#000" stroke="#000" stroke-width="1.3"/>
<circle cx="715.50" cy="278.80" r="2.10" fill="none" stroke="#000" stroke-width="1.2"/>
<path d="M751.5,259 L755.4,264.2 V283.3 L751.5,289" fill="none" stroke="#000" stroke-width="1.6"/>
<path d="M741.4,290 V257.5 Q741.4,254.6 744.2,254.6 H748.7 Q751.5,254.6 751.5,257.5 V290" fill="none" stroke="#000" stroke-width="1.6"/>
<line x1="750.20" y1="258.00" x2="750.20" y2="288.00" stroke="#000" stroke-width="1.6"/>
<path d="M745.5,253.8 V251.5 Q746.2,249.9 747,251.5 V253.8" fill="none" stroke="#000" stroke-width="1.2"/>
<line x1="743.20" y1="277.00" x2="743.20" y2="290.00" stroke="#000" stroke-width="1.6"/>
<line x1="744.80" y1="277.00" x2="744.80" y2="290.00" stroke="#000" stroke-width="1.6"/>
<path d="M742.00,290.30 L749.60,290.30 L752.20,294.70 L739.50,294.70Z" fill="none" stroke="#000" stroke-width="1.6" stroke-linejoin="miter"/>
<rect x="739.50" y="294.70" width="12.70" height="3.20" fill="none" stroke="#000" stroke-width="1.6"/>
<line x1="745.20" y1="293.50" x2="745.20" y2="302.40" stroke="#000" stroke-width="1.6"/>
<line x1="755.40" y1="270.30" x2="762.80" y2="270.30" stroke="#000" stroke-width="1.6"/>
<line x1="755.40" y1="276.60" x2="762.80" y2="276.60" stroke="#000" stroke-width="1.6"/>
<rect x="763.00" y="260.40" width="10.20" height="25.40" fill="none" stroke="#000" stroke-width="1.2"/>
<line x1="764.90" y1="260.40" x2="764.90" y2="276.00" stroke="#000" stroke-width="2.0"/>
<line x1="767.50" y1="260.40" x2="767.50" y2="276.00" stroke="#000" stroke-width="2.0"/>
<line x1="770.00" y1="260.40" x2="770.00" y2="276.00" stroke="#000" stroke-width="2.0"/>
<line x1="764.50" y1="285.80" x2="764.50" y2="294.70" stroke="#000" stroke-width="1.2"/>
<line x1="766.00" y1="285.80" x2="766.00" y2="294.70" stroke="#000" stroke-width="1.2"/>
<line x1="768.60" y1="285.80" x2="768.60" y2="294.70" stroke="#000" stroke-width="1.2"/>
<line x1="770.10" y1="285.80" x2="770.10" y2="294.70" stroke="#000" stroke-width="1.2"/>
<line x1="764.50" y1="306.00" x2="764.50" y2="314.60" stroke="#000" stroke-width="1.3"/>
<line x1="764.50" y1="326.30" x2="764.50" y2="333.50" stroke="#000" stroke-width="1.3"/>
<line x1="766.00" y1="306.00" x2="766.00" y2="314.60" stroke="#000" stroke-width="1.3"/>
<line x1="766.00" y1="326.30" x2="766.00" y2="333.50" stroke="#000" stroke-width="1.3"/>
<line x1="768.60" y1="306.00" x2="768.60" y2="314.60" stroke="#000" stroke-width="1.3"/>
<line x1="768.60" y1="326.30" x2="768.60" y2="333.50" stroke="#000" stroke-width="1.3"/>
<line x1="770.10" y1="306.00" x2="770.10" y2="314.60" stroke="#000" stroke-width="1.3"/>
<line x1="770.10" y1="326.30" x2="770.10" y2="333.50" stroke="#000" stroke-width="1.3"/>
<line x1="761.60" y1="316.00" x2="761.60" y2="323.40" stroke="#000" stroke-width="1.2"/>
<line x1="761.60" y1="333.50" x2="761.60" y2="385.00" stroke="#000" stroke-width="1.2"/>
<rect x="764.00" y="333.50" width="3.20" height="11.70" fill="none" stroke="#000" stroke-width="1.2"/>
<rect x="768.10" y="333.50" width="3.20" height="11.70" fill="none" stroke="#000" stroke-width="1.2"/>
<rect x="761.00" y="345.80" width="10.80" height="1.80" fill="none" stroke="#000" stroke-width="1.0"/>
<line x1="764.50" y1="348.00" x2="764.50" y2="361.00" stroke="#000" stroke-width="1.6"/>
<line x1="766.30" y1="348.00" x2="766.30" y2="361.00" stroke="#000" stroke-width="1.6"/>
<line x1="768.80" y1="348.00" x2="768.80" y2="361.00" stroke="#000" stroke-width="1.6"/>
<line x1="770.60" y1="348.00" x2="770.60" y2="361.00" stroke="#000" stroke-width="1.6"/>
<path d="M761.1,264.2 V252.7 H769.4 Q773.4,252.7 773.4,257.8 V362.6 Q773.4,367.6 767.8,367.6 H762.3" fill="none" stroke="#000" stroke-width="1.6"/>
<line x1="668.40" y1="298.00" x2="761.70" y2="298.00" stroke="#000" stroke-width="1.6"/>
<line x1="668.40" y1="305.90" x2="761.70" y2="305.90" stroke="#000" stroke-width="1.6"/>
<line x1="761.70" y1="297.50" x2="761.70" y2="306.30" stroke="#000" stroke-width="2.0"/>
<line x1="668.60" y1="297.90" x2="668.60" y2="378.20" stroke="#000" stroke-width="1.6"/>
<line x1="678.40" y1="305.90" x2="678.40" y2="369.40" stroke="#000" stroke-width="1.6"/>
<line x1="754.10" y1="305.90" x2="754.10" y2="333.00" stroke="#000" stroke-width="1.6"/>
<path d="M711.1,332.9 H705.5 Q702.6,332.9 702.6,337 V357.5 Q702.6,361.6 705.5,361.6 H711.1 Z" fill="none" stroke="#000" stroke-width="1.6"/>
<path d="M711.1,332.9 H756.5 Q759.7,332.9 759.7,337.5 V357 Q759.7,361.6 756.5,361.6 H711.1" fill="none" stroke="#000" stroke-width="1.6"/>
<line x1="711.10" y1="336.60" x2="759.20" y2="336.60" stroke="#000" stroke-width="1.2"/>
<line x1="711.10" y1="340.10" x2="759.20" y2="340.10" stroke="#000" stroke-width="1.2"/>
<line x1="711.10" y1="343.50" x2="759.20" y2="343.50" stroke="#000" stroke-width="1.2"/>
<line x1="711.10" y1="347.00" x2="759.20" y2="347.00" stroke="#000" stroke-width="1.2"/>
<line x1="711.10" y1="350.40" x2="759.20" y2="350.40" stroke="#000" stroke-width="1.2"/>
<line x1="711.10" y1="353.90" x2="759.20" y2="353.90" stroke="#000" stroke-width="1.2"/>
<line x1="711.10" y1="357.40" x2="759.20" y2="357.40" stroke="#000" stroke-width="1.2"/>
<rect x="730.00" y="347.00" width="6.90" height="5.50" fill="none" stroke="#000" stroke-width="1.2"/>
<rect x="730.00" y="353.00" width="6.90" height="6.10" fill="none" stroke="#000" stroke-width="1.2"/>
<rect x="730.8" y="347.8" width="5.3" height="4" fill="#fff"/><rect x="730.8" y="353.8" width="5.3" height="4.6" fill="#fff"/>
<line x1="733.40" y1="328.90" x2="733.40" y2="332.90" stroke="#000" stroke-width="2.0"/>
<path d="M716.10,361.60 L710.10,368.20 L755.90,368.20 L749.80,361.60" fill="none" stroke="#000" stroke-width="1.6" stroke-linejoin="miter"/>
<line x1="733.40" y1="361.60" x2="733.40" y2="368.20" stroke="#000" stroke-width="1.6"/>
<line x1="594.60" y1="369.40" x2="762.80" y2="369.40" stroke="#000" stroke-width="1.4"/>
<line x1="594.60" y1="371.60" x2="762.80" y2="371.60" stroke="#000" stroke-width="1.3"/>
<line x1="594.60" y1="378.20" x2="762.80" y2="378.20" stroke="#000" stroke-width="2.1"/>
<line x1="668.40" y1="365.30" x2="668.40" y2="378.20" stroke="#000" stroke-width="1.3"/>
<line x1="567.70" y1="410.00" x2="669.10" y2="410.00" stroke="#000" stroke-width="1.6"/>
<path d="M594.70,410.00 L581.00,407.40 L581.00,412.60Z" fill="#fff" stroke="#000" stroke-width="1.0" stroke-linejoin="miter"/>
<path d="M609.70,410.00 L623.70,407.40 L623.70,412.60Z" fill="#fff" stroke="#000" stroke-width="1.0" stroke-linejoin="miter"/>
<g transform="translate(647.10,393.10)" fill="none" stroke="#000" stroke-width="1.30" stroke-linecap="round" stroke-linejoin="round">
<path transform="translate(0.00,0)" d="M0,0V14H9.6"/>
<path transform="translate(13.20,0)" d="M0,2.9L3.6,0V14M0.6,14H6.2"/>
</g>
<line x1="688.10" y1="410.00" x2="790.00" y2="410.00" stroke="#000" stroke-width="1.6"/>
<path d="M747.40,410.00 L734.00,407.40 L734.00,412.60Z" fill="#fff" stroke="#000" stroke-width="1.0" stroke-linejoin="miter"/>
<path d="M762.70,410.00 L775.70,407.40 L775.70,412.60Z" fill="#fff" stroke="#000" stroke-width="1.0" stroke-linejoin="miter"/>
<g transform="translate(691.10,393.10)" fill="none" stroke="#000" stroke-width="1.30" stroke-linecap="round" stroke-linejoin="round">
<path transform="translate(0.00,0)" d="M0,0V14H9.6"/>
<path transform="translate(13.20,0)" d="M0,2.9L3.6,0V14M0.6,14H6.2"/>
</g>
<line x1="594.70" y1="369.40" x2="594.70" y2="393.20" stroke="#000" stroke-width="1.6"/>
<line x1="594.70" y1="400.20" x2="594.70" y2="413.30" stroke="#000" stroke-width="1.6"/>
<line x1="594.70" y1="420.40" x2="594.70" y2="438.00" stroke="#000" stroke-width="1.6"/>
<line x1="594.70" y1="441.00" x2="594.70" y2="448.00" stroke="#000" stroke-width="1.6"/>
<line x1="594.70" y1="459.40" x2="594.70" y2="467.30" stroke="#000" stroke-width="1.6"/>
<line x1="609.70" y1="371.60" x2="609.70" y2="391.80" stroke="#000" stroke-width="1.6"/>
<line x1="609.70" y1="403.00" x2="609.70" y2="413.00" stroke="#000" stroke-width="1.6"/>
<line x1="669.10" y1="390.00" x2="669.10" y2="398.60" stroke="#000" stroke-width="1.6"/>
<line x1="669.10" y1="410.00" x2="669.10" y2="418.60" stroke="#000" stroke-width="1.6"/>
<line x1="669.10" y1="430.20" x2="669.10" y2="437.70" stroke="#000" stroke-width="1.6"/>
<line x1="747.40" y1="371.60" x2="747.40" y2="391.50" stroke="#000" stroke-width="1.6"/>
<line x1="747.40" y1="402.80" x2="747.40" y2="411.00" stroke="#000" stroke-width="1.6"/>
<line x1="762.70" y1="378.00" x2="762.70" y2="389.00" stroke="#000" stroke-width="1.6"/>
<line x1="762.70" y1="400.00" x2="762.70" y2="411.00" stroke="#000" stroke-width="1.6"/>
<line x1="762.70" y1="419.20" x2="762.70" y2="430.00" stroke="#000" stroke-width="1.6"/>
<line x1="762.70" y1="438.30" x2="762.70" y2="448.30" stroke="#000" stroke-width="1.6"/>
<line x1="762.70" y1="459.30" x2="762.70" y2="467.80" stroke="#000" stroke-width="1.6"/>
<line x1="594.60" y1="437.70" x2="669.10" y2="437.70" stroke="#000" stroke-width="1.6"/>
<path d="M594.60,437.70 L608.60,435.10 L608.60,440.30Z" fill="#fff" stroke="#000" stroke-width="1.0" stroke-linejoin="miter"/>
<path d="M669.10,437.70 L655.10,435.10 L655.10,440.30Z" fill="#fff" stroke="#000" stroke-width="1.0" stroke-linejoin="miter"/>
<g transform="translate(619.40,421.30)" fill="none" stroke="#000" stroke-width="1.30" stroke-linecap="round" stroke-linejoin="round">
<path transform="translate(0.00,0)" d="M0,0V14H9.6"/>
<path transform="translate(13.60,0)" d="M0.3,3.9C0.4,1.5 2.4,0 5,0C7.7,0 9.7,1.7 9.7,4.1C9.7,6.2 8.6,7.4 6.8,8.9L0.2,14H10"/>
</g>
<line x1="594.60" y1="467.80" x2="762.70" y2="467.80" stroke="#000" stroke-width="1.6"/>
<path d="M594.60,467.80 L608.60,465.20 L608.60,470.40Z" fill="#fff" stroke="#000" stroke-width="1.0" stroke-linejoin="miter"/>
<path d="M762.70,467.80 L748.70,465.20 L748.70,470.40Z" fill="#fff" stroke="#000" stroke-width="1.0" stroke-linejoin="miter"/>
<g transform="translate(667.10,450.80)" fill="none" stroke="#000" stroke-width="1.30" stroke-linecap="round" stroke-linejoin="round">
<path transform="translate(0.00,0)" d="M0,0V14H9.6"/>
<path transform="translate(13.40,0)" d="M7.2,0.3L1.6,6.1C0.6,7.2 0.2,8.3 0.2,9.5C0.2,12.1 2.2,14 5,14C7.8,14 9.8,12.1 9.8,9.5C9.8,6.9 7.8,5.1 5,5.1C3.6,5.1 2.5,5.5 1.6,6.1"/>
</g>
</svg>
</body></html>
